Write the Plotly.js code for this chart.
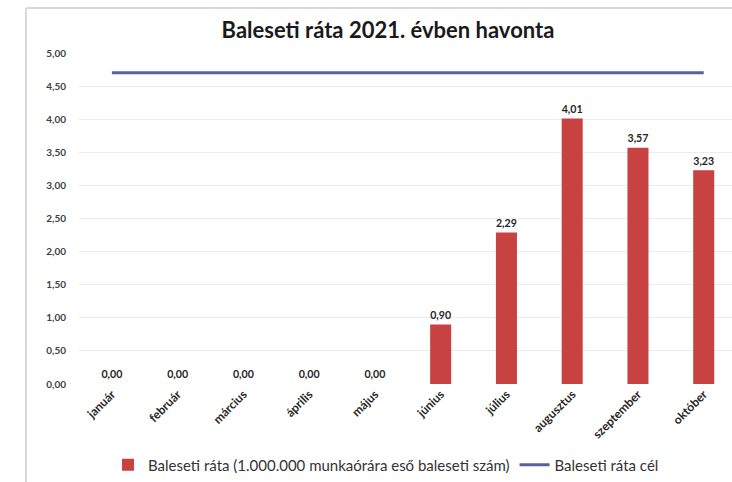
<!DOCTYPE html>
<html>
<head>
<meta charset="utf-8">
<script src="https://cdn.plot.ly/plotly-3.0.1.min.js"></script>
<style>html,body{margin:0;padding:0;background:#fff;}#chart{width:732px;height:482px;}</style>
</head>
<body>
<div id="chart"></div>
<script>
var months = ["január","február","március","április","május","június","július","augusztus","szeptember","október"];
var rates = [0.00, 0.00, 0.00, 0.00, 0.00, 0.90, 2.29, 4.01, 3.57, 3.23];
var targets = [4.70, 4.70, 4.70, 4.70, 4.70, 4.70, 4.70, 4.70, 4.70, 4.70];
var yTicks = [0, 0.5, 1, 1.5, 2, 2.5, 3, 3.5, 4, 4.5, 5];

var barTrace = {
  type: "bar",
  x: months,
  y: rates,
  name: "Baleseti ráta (1.000.000 munkaórára eső baleseti szám)",
  marker: {color: "#c94242"},
  width: 0.32,
  texttemplate: "%{y:.2f}",
  textposition: "outside",
  textfont: {family: "Lato, sans-serif", size: 12, color: "#262626", weight: "bold"},
  cliponaxis: false,
  hoverinfo: "skip"
};
var lineTrace = {
  type: "scatter",
  mode: "lines",
  x: months,
  y: targets,
  name: "Baleseti ráta cél",
  line: {color: "#56639a", width: 3},
  hoverinfo: "skip"
};

var layout = {
  width: 732,
  height: 482,
  separators: ", ",
  paper_bgcolor: "#ffffff",
  plot_bgcolor: "#ffffff",
  margin: {l: 79, r: 0, t: 53, b: 98},
  showlegend: true,
  title: {
    text: "<b>Baleseti ráta 2021. évben havonta</b>",
    font: {family: "Lato, sans-serif", size: 22, color: "#1a1a1a"},
    x: 388 / 732, xref: "container", xanchor: "center",
    y: 1 - 30 / 482, yref: "container", yanchor: "middle"
  },
  xaxis: {
    type: "category",
    range: [-0.5, 9.43],
    tickangle: -45,
    tickfont: {family: "Lato, sans-serif", size: 12, color: "#262626", weight: "bold"},
    showgrid: false,
    showline: false,
    ticks: "",
    fixedrange: true
  },
  yaxis: {
    range: [0, 5],
    tickvals: yTicks,
    tickformat: ".2f",
    tickfont: {family: "Lato, sans-serif", size: 10, color: "#404040", weight: "bold"},
    showgrid: true,
    gridcolor: "#ebebeb",
    gridwidth: 1,
    zeroline: false,
    showline: false,
    ticks: "",
    ticklabelstandoff: 12,
    fixedrange: true
  },
  legend: {
    orientation: "h",
    x: 386 / 732, xref: "container", xanchor: "center",
    y: 1 - 465 / 482, yref: "container", yanchor: "middle",
    font: {family: "Lato, sans-serif", size: 15, color: "#333333"},
    itemwidth: 30,
    tracegroupgap: 0
  },
  shapes: [
    {type: "line", xref: "paper", yref: "paper", x0: -53/653, x1: -53/653, y0: -98/331, y1: 1 + 45/331, line: {color: "#d9d9d9", width: 2}},
    {type: "line", xref: "paper", yref: "paper", x0: -53/653, x1: 1.0, y0: 1 + 45/331, y1: 1 + 45/331, line: {color: "#d9d9d9", width: 2}}
  ]
};

Plotly.newPlot("chart", [barTrace, lineTrace], layout, {displayModeBar: false, staticPlot: true});
</script>
</body>
</html>
